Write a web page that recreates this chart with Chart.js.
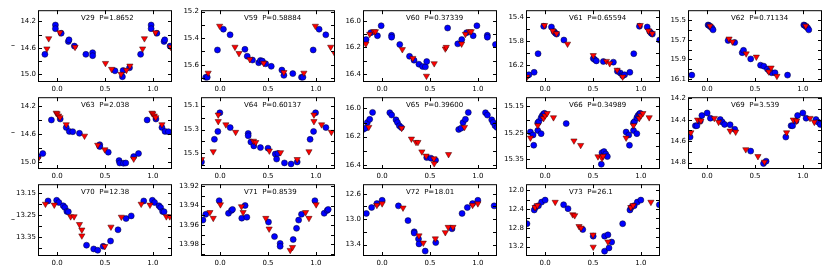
<!DOCTYPE html>
<html><head><meta charset="utf-8">
<script src="https://cdn.jsdelivr.net/npm/chart.js@4"></script>
<style>
html,body{margin:0;padding:0;background:#fff;}
body{width:830px;height:274px;overflow:hidden;position:relative;font-family:"DejaVu Sans";}
canvas{position:absolute;}
.yl{position:absolute;font:8px "DejaVu Sans";color:#000;line-height:8px;}
</style></head><body>
<script>
// ---------- data ----------
const stars = ['V29','V59','V60','V61','V62','V63','V64','V65','V66','V69','V70','V71','V72','V73'];
const periods = ['1.8652','0.58884','0.37339','0.65594','0.71134','2.038','0.60137','0.39600','0.34989','3.539','12.38','0.8539','18.01','26.1'];
const xTickValues = [0.0, 0.5, 1.0];

// [phase, magnitude] blue circles / red triangles
const v29Blue = [[0.872,14.70],[0.982,14.255],[0.982,14.31],[0.042,14.38],[0.117,14.505],[0.124,14.48],[0.18,14.575],[0.30,14.70],[0.371,14.675],[0.371,14.72],[0.604,14.95],[0.682,15.04],[0.689,14.945],[0.756,14.905]];
const v29Red = [[0.893,14.615],[0.912,14.46],[0.028,14.37],[0.187,14.59],[0.505,14.835],[0.569,14.925],[0.668,15.0],[0.724,14.94],[0.76,14.875]];
const v59Blue = [[0.85,15.694],[0.865,15.694],[0.972,15.489],[0.034,15.333],[0.104,15.375],[0.259,15.484],[0.283,15.536],[0.338,15.565],[0.403,15.585],[0.421,15.568],[0.441,15.573],[0.476,15.593],[0.534,15.612],[0.645,15.64],[0.666,15.68],[0.759,15.667]];
const v59Red = [[0.875,15.662],[0.995,15.309],[0.155,15.467],[0.197,15.514],[0.31,15.56],[0.455,15.588],[0.666,15.657]];
const v60Blue = [[0.79,16.173],[0.832,16.141],[0.882,16.089],[0.951,16.112],[0.99,16.037],[0.099,16.109],[0.099,16.123],[0.184,16.178],[0.286,16.267],[0.333,16.296],[0.384,16.326],[0.422,16.343],[0.452,16.346],[0.466,16.306],[0.684,16.054]];
const v60Red = [[0.83,16.173],[0.87,16.10],[0.915,16.08],[0.93,16.08],[0.211,16.215],[0.32,16.281],[0.463,16.415],[0.544,16.321],[0.66,16.21],[0.67,16.198]];
const v61Blue = [[0.785,16.33],[0.81,16.375],[0.83,16.36],[0.885,16.319],[0.926,16.011],[0.985,15.557],[0.066,15.568],[0.093,15.643],[0.108,15.67],[0.12,15.686],[0.196,15.784],[0.503,16.092],[0.517,16.108],[0.535,16.13],[0.608,16.14],[0.713,16.151],[0.755,16.303]];
const v61Red = [[0.81,16.395],[0.993,15.54],[0.08,15.632],[0.119,15.676],[0.234,15.849],[0.503,16.038],[0.64,16.135],[0.675,16.173],[0.752,16.281]];
const v62Blue = [[0.84,16.06],[0.01,15.55],[0.02,15.555],[0.034,15.567],[0.05,15.58],[0.062,15.60],[0.219,15.708],[0.288,15.728],[0.366,15.832],[0.38,15.808],[0.455,15.895],[0.558,15.959],[0.592,15.969],[0.63,15.999],[0.651,16.019],[0.675,16.036],[0.709,16.036]];
const v62Red = [[0.03,15.56],[0.229,15.691],[0.264,15.721],[0.408,15.842],[0.514,15.875],[0.644,16.026],[0.668,15.986],[0.729,16.07]];
const v63Blue = [[0.80,14.923],[0.85,14.879],[0.94,14.40],[0.032,14.386],[0.095,14.507],[0.127,14.563],[0.163,14.567],[0.233,14.59],[0.445,14.753],[0.445,14.78],[0.534,14.86],[0.647,14.98],[0.654,15.014],[0.693,15.019],[0.717,15.014]];
const v63Red = [[0.80,14.955],[0.99,14.30],[0.0,14.31],[0.015,14.34],[0.03,14.365],[0.095,14.465],[0.286,14.628],[0.424,14.758],[0.498,14.823]];
const v64Blue = [[0.805,15.571],[0.94,15.382],[0.976,15.316],[0.997,15.16],[0.105,15.284],[0.293,15.333],[0.293,15.352],[0.321,15.404],[0.352,15.437],[0.421,15.451],[0.5,15.456],[0.576,15.505],[0.59,15.547],[0.603,15.5],[0.672,15.579],[0.741,15.588]];
const v64Red = [[0.805,15.549],[0.928,15.484],[0.98,15.177],[0.98,15.232],[0.06,15.259],[0.162,15.322],[0.348,15.396],[0.372,15.407],[0.514,15.478],[0.631,15.492]];
const v65Blue = [[0.80,16.149],[0.825,16.14],[0.845,16.10],[0.87,16.077],[0.90,16.028],[0.08,16.03],[0.10,16.047],[0.145,16.081],[0.16,16.10],[0.18,16.123],[0.20,16.135],[0.466,16.349],[0.51,16.353],[0.558,16.367]];
const v65Red = [[0.86,16.133],[0.204,16.14],[0.306,16.216],[0.354,16.24],[0.374,16.24],[0.415,16.307],[0.46,16.337],[0.54,16.356],[0.544,16.391],[0.694,16.326]];
const v66Blue = [[0.846,15.247],[0.874,15.258],[0.881,15.297],[0.923,15.241],[0.923,15.212],[0.934,15.207],[0.958,15.193],[0.969,15.185],[0.983,15.179],[0.993,15.176],[0.958,15.253],[0.22,15.215],[0.587,15.369],[0.594,15.325],[0.615,15.321],[0.633,15.33],[0.65,15.34]];
const v66Red = [[0.846,15.269],[0.923,15.222],[0.983,15.195],[0.0,15.185],[0.021,15.176],[0.087,15.192],[0.301,15.28],[0.371,15.297],[0.552,15.34],[0.594,15.346],[0.605,15.338]];
const v69Blue = [[0.822,14.562],[0.877,14.456],[0.893,14.456],[0.928,14.413],[0.945,14.361],[0.0,14.337],[0.034,14.386],[0.137,14.398],[0.158,14.422],[0.182,14.444],[0.24,14.447],[0.288,14.489],[0.455,14.693],[0.589,14.809],[0.616,14.787]];
const v69Red = [[0.83,14.52],[0.90,14.401],[0.935,14.41],[0.075,14.386],[0.12,14.422],[0.24,14.504],[0.298,14.514],[0.404,14.678],[0.531,14.742],[0.599,14.794]];
const v70Blue = [[0.905,13.186],[0.995,13.183],[0.018,13.193],[0.064,13.208],[0.081,13.216],[0.102,13.234],[0.117,13.235],[0.307,13.387],[0.382,13.404],[0.424,13.41],[0.481,13.392],[0.558,13.368],[0.636,13.317],[0.72,13.266],[0.774,13.254]];
const v70Red = [[0.878,13.20],[0.97,13.204],[0.141,13.257],[0.177,13.257],[0.233,13.292],[0.258,13.317],[0.258,13.344],[0.498,13.392],[0.562,13.304],[0.671,13.259]];
const v71Blue = [[0.798,13.9635],[0.82,13.955],[0.85,13.949],[0.99,13.935],[0.087,13.948],[0.118,13.945],[0.129,13.944],[0.226,13.953],[0.261,13.94],[0.279,13.952],[0.505,13.957],[0.568,13.972],[0.627,13.979],[0.627,13.982],[0.763,13.975]];
const v71Red = [[0.893,13.947],[0.928,13.953],[0.003,13.939],[0.223,13.941],[0.24,13.947],[0.477,13.953],[0.512,13.964],[0.732,13.986],[0.756,13.983]];
const v72Blue = [[0.835,12.91],[0.89,12.817],[0.945,12.755],[0.0,12.703],[0.17,12.791],[0.27,13.023],[0.335,13.199],[0.335,13.219],[0.38,13.312],[0.385,13.39],[0.45,13.503],[0.56,13.369],[0.73,13.152]];
const v72Red = [[0.945,12.78],[0.0,12.755],[0.218,12.822],[0.385,13.26],[0.43,13.374],[0.556,13.307],[0.66,13.209],[0.69,13.126],[0.74,13.126]];
const v73Blue = [[0.81,12.712],[0.886,12.419],[0.90,12.363],[0.93,12.328],[0.963,12.251],[0.0,12.209],[0.193,12.307],[0.239,12.391],[0.393,12.837],[0.502,12.977],[0.621,12.977],[0.656,12.949],[0.621,13.298],[0.667,13.228],[0.695,13.103]];
const v73Red = [[0.895,12.363],[0.919,12.321],[0.105,12.251],[0.288,12.516],[0.309,12.537],[0.354,12.768],[0.375,12.802],[0.502,13.207],[0.5,12.949],[0.656,13.096]];

const blueSets = [v29Blue,v59Blue,v60Blue,v61Blue,v62Blue,v63Blue,v64Blue,v65Blue,v66Blue,v69Blue,v70Blue,v71Blue,v72Blue,v73Blue];
const redSets = [v29Red,v59Red,v60Red,v61Red,v62Red,v63Red,v64Red,v65Red,v66Red,v69Red,v70Red,v71Red,v72Red,v73Red];

// y-axis limits (magnitudes, reversed) and tick labels
const yTop = [14.03,15.19,15.92,15.29,15.40,14.075,15.03,15.92,15.115,14.19,13.11,13.918,12.45,11.87];
const yBottom = [15.12,15.73,16.46,16.48,16.13,15.10,15.63,16.43,15.387,14.86,13.436,13.992,13.58,13.40];
const yTickLabels = [
  ['14.2','','14.6','','15.0'],
  ['15.2','','15.4','','15.6','',''],
  ['16.0','','16.2','','16.4'],
  ['15.4','','15.8','','16.2',''],
  ['15.5','','15.7','','15.9','','16.1'],
  ['14.2','','14.6','','15.0'],
  ['15.1','','15.3','','15.5',''],
  ['16.0','','16.2','','16.4'],
  ['15.15','','15.25','','15.35'],
  ['14.2','','14.4','','14.6','','14.8'],
  ['13.15','','13.25','','13.35',''],
  ['13.92','','13.94','','13.96','','13.98',''],
  ['12.6','','13.0','','13.4'],
  ['12.0','','12.4','','12.8','','13.2']
];
const yTickValues = [
  [14.2,14.4,14.6,14.8,15.0],
  [15.2,15.3,15.4,15.5,15.6,15.7],
  [16.0,16.1,16.2,16.3,16.4],
  [15.4,15.6,15.8,16.0,16.2,16.4],
  [15.5,15.6,15.7,15.8,15.9,16.0,16.1],
  [14.2,14.4,14.6,14.8,15.0],
  [15.1,15.2,15.3,15.4,15.5,15.6],
  [16.0,16.1,16.2,16.3,16.4],
  [15.15,15.2,15.25,15.3,15.35],
  [14.2,14.3,14.4,14.5,14.6,14.7,14.8],
  [13.15,13.2,13.25,13.3,13.35,13.4],
  [13.92,13.93,13.94,13.95,13.96,13.97,13.98,13.99],
  [12.6,12.8,13.0,13.2,13.4],
  [12.0,12.2,12.4,12.6,12.8,13.0,13.2]
];

// ---------- layout ----------
const BOX_L = [38, 201, 363, 526, 688];
const BOX_T = [9, 96, 183];
const BOX_W = 134, BOX_H = 73;
const PL = 34, PT = 5, PR = 6, PB = 14;
const FONT = {family:'"DejaVu Sans"', size:7};

function wrap(arr){
  const out = [];
  for (const [p,m] of arr){
    for (const s of [-1,0,1]){
      const x = p + s;
      if (x >= -0.2 && x <= 1.2) out.push({x:x, y:m});
    }
  }
  return out;
}

const deco = {
  id:'deco',
  afterDraw(chart, args, opts){
    const {ctx, chartArea:a, scales} = chart;
    ctx.save();
    ctx.strokeStyle = '#000';
    ctx.lineWidth = 1;
    ctx.beginPath();
    for (const t of scales.x.ticks){
      const px = Math.round(scales.x.getPixelForValue(t.value)) + 0.5;
      ctx.moveTo(px, a.bottom); ctx.lineTo(px, a.bottom - 4);
      ctx.moveTo(px, a.top); ctx.lineTo(px, a.top + 4);
    }
    for (const t of scales.y.ticks){
      const py = Math.round(scales.y.getPixelForValue(t.value)) + 0.5;
      ctx.moveTo(a.left, py); ctx.lineTo(a.left + 4, py);
      ctx.moveTo(a.right, py); ctx.lineTo(a.right - 4, py);
    }
    ctx.stroke();
    ctx.strokeRect(a.left + 0.5, a.top + 0.5, a.right - a.left - 1, a.bottom - a.top - 1);
    ctx.fillStyle = '#000';
    ctx.font = '7px "DejaVu Sans"';
    ctx.textBaseline = 'middle';
    ctx.textAlign = 'left';
    ctx.fillText(opts.title, a.left + 43, a.top + 7.5);
    ctx.restore();
  }
};

for (let i = 0; i < stars.length; i++){
  const col = i % 5, row = Math.floor(i / 5);
  const c = document.createElement('canvas');
  const W = BOX_W + PL + PR, H = BOX_H + PT + PB;
  c.width = W; c.height = H;
  c.style.width = W + 'px'; c.style.height = H + 'px';
  c.style.left = (BOX_L[col] - PL) + 'px';
  c.style.top = (BOX_T[row] - PT) + 'px';
  document.body.appendChild(c);
  const yv = yTickValues[i], yl = yTickLabels[i];
  new Chart(c, {
    type:'scatter',
    data:{datasets:[
      {data:wrap(blueSets[i]), pointStyle:'circle', pointRadius:3, pointHoverRadius:3,
       backgroundColor:'#0000ff', borderColor:'rgba(0,0,40,0.85)', borderWidth:0.6, order:2},
      {data:wrap(redSets[i]), pointStyle:'triangle', pointRotation:180, pointRadius:3.6, pointHoverRadius:3.6,
       backgroundColor:'#ff0000', borderColor:'rgba(60,0,0,0.85)', borderWidth:0.6, order:1}
    ]},
    options:{
      responsive:false, animation:false, devicePixelRatio:1,
      layout:{padding:{left:0, top:PT, right:PR, bottom:0}, autoPadding:false},
      plugins:{legend:{display:false}, tooltip:{enabled:false}, deco:{title: stars[i] + '  P=' + periods[i]}},
      scales:{
        x:{type:'linear', min:-0.2, max:1.2,
           afterBuildTicks:s => { s.ticks = xTickValues.map(v => ({value:v})); },
           ticks:{callback:v => Number(v).toFixed(1), font:FONT, color:'#000', padding:3, autoSkip:false, maxRotation:0, minRotation:0},
           grid:{display:false, drawTicks:false}, border:{display:false},
           afterFit:s => { s.height = PB; }},
        y:{type:'linear', reverse:true, min:yTop[i], max:yBottom[i],
           afterBuildTicks:s => { s.ticks = yv.map(v => ({value:v})); },
           ticks:{callback:(v) => { const k = yv.findIndex(t => Math.abs(t - v) < 1e-9); return k >= 0 ? yl[k] : ''; },
                  font:FONT, color:'#000', padding:2, autoSkip:false},
           grid:{display:false, drawTicks:false}, border:{display:false},
           afterFit:s => { s.width = PL; }}
      }
    },
    plugins:[deco]
  });
}

// y-axis label marks for the first column
for (let r = 0; r < 3; r++){
  const d = document.createElement('div');
  d.className = 'yl';
  d.textContent = '–';
  d.style.left = '11px';
  d.style.top = (BOX_T[r] + BOX_H / 2 - 4) + 'px';
  document.body.appendChild(d);
}
</script>
</body></html>
